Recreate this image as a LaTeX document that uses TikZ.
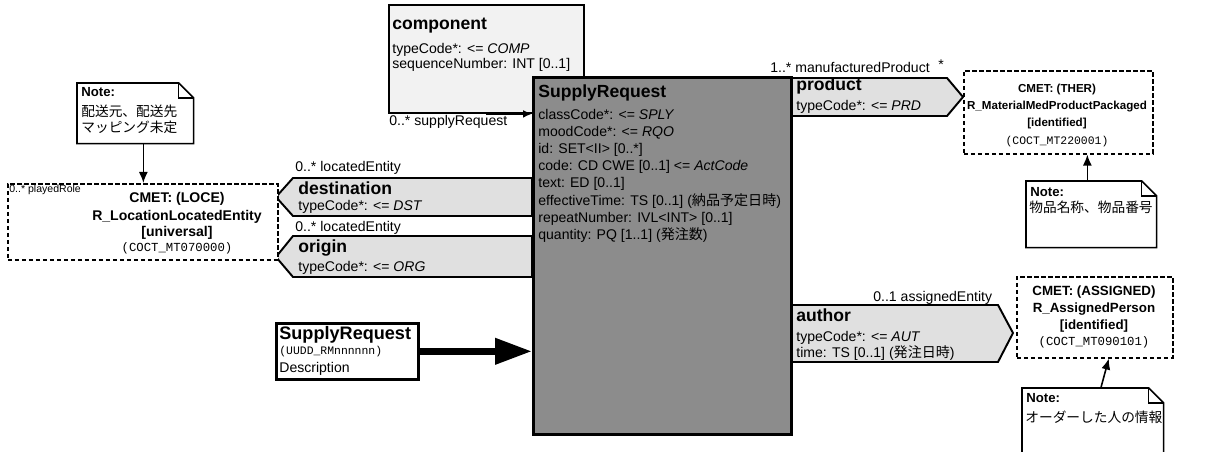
\documentclass[tikz,border=0pt]{standalone}
\usepackage{fontspec}
\setmainfont{Liberation Sans}
\setmonofont{Liberation Mono}
\newfontfamily\jpfont{Noto Sans CJK JP}
\usetikzlibrary{arrows.meta,calc}
\definecolor{actfill}{gray}{0.55}
\definecolor{ptcpfill}{gray}{0.88}
\definecolor{relfill}{gray}{0.95}

\tikzset{
  clsname/.style={font=\fontsize{10}{12}\selectfont\bfseries, anchor=base west, inner sep=0pt},
  attr/.style={font=\fontsize{8}{10}\selectfont, anchor=base west, inner sep=0pt},
  cmetline/.style={font=\fontsize{8}{10}\selectfont\bfseries, anchor=base, inner sep=0pt},
  cmetid/.style={font=\fontsize{7}{9}\selectfont\ttfamily, anchor=base, inner sep=0pt},
  notetext/.style={font=\fontsize{7.8}{9}\selectfont\jpfont, anchor=base west, inner sep=0pt},
  clsbox/.style={draw, line width=1.1pt, anchor=north west, inner sep=0pt},
  cmetbox/.style={draw, line width=0.9pt, dash pattern=on 0.09cm off 0.05cm, fill=white, anchor=north west, inner sep=0pt},
  ptcp/.style={draw, line width=1.1pt, fill=ptcpfill, line join=miter},
  notebox/.style={draw, line width=0.9pt},
  notearrow/.style={-{Latex[length=0.22cm,width=0.18cm]}, line width=0.9pt},
}

\newcommand{\foldnote}[1]{%
  \draw[notebox, fill=white] (#1.south west) -- (#1.north west) -- ([xshift=-0.3cm]#1.north east)
    -- ([yshift=-0.3cm]#1.north east) -- (#1.south east) -- cycle;
  \draw[notebox] ([xshift=-0.3cm]#1.north east) |- ([yshift=-0.3cm]#1.north east);
}

\begin{document}
\begin{tikzpicture}[x=0.02cm, y=-0.02cm]
\useasboundingbox (0,0) rectangle (1207,452);
\clip (0,0) rectangle (1207,452);

% component (act relationship back to itself)
\node[clsbox, fill=relfill, minimum width=3.9cm, minimum height=2.16cm] (comp) at (388,4) {};
\node[clsname] (compname) at (392,30) {component};
\node[attr] (comptc) at (392,54) {typeCode*: <= \textit{COMP}};
\node[attr] (compsn) at (392,69) {sequenceNumber: INT [0..1]};
\node[attr] (comprole) at (389,126) {0..* supplyRequest};

% participations on the left
\draw[ptcp] (276,197) -- (293,178) -- (532,178) -- (532,216) -- (293,216) -- cycle;
\node[attr] (destrole) at (295,172) {0..* locatedEntity};
\node[clsname] (destname) at (298,195) {destination};
\node[attr] (desttc) at (298,211) {typeCode*: <= \textit{DST}};

\draw[ptcp] (276,257) -- (293,236) -- (532,236) -- (532,277) -- (293,277) -- cycle;
\node[attr] (origrole) at (295,232) {0..* locatedEntity};
\node[clsname] (origname) at (298,253) {origin};
\node[attr] (origtc) at (298,272) {typeCode*: <= \textit{ORG}};

% main act
\node[clsbox, fill=actfill, line width=1.6pt, minimum width=5.16cm, minimum height=7.14cm] (main) at (532,76) {};
\node[clsname] (srname) at (538,98) {SupplyRequest};
\foreach \attrtext [count=\i] in {
    {classCode*: <= \textit{SPLY}},
    {moodCode*: <= \textit{RQO}},
    {id: SET<II> [0..*]},
    {code: CD CWE [0..1] <= \textit{ActCode}},
    {text: ED [0..1]},
    {effectiveTime: TS [0..1] ({\jpfont 納品予定日時})},
    {repeatNumber: IVL<INT> [0..1]},
    {quantity: PQ [1..1] ({\jpfont 発注数})}}
  \node[attr] (sr\i) at (538,{102+17.2*\i}) {\attrtext};

\draw[line width=1.1pt, -{Latex[length=0.18cm,width=0.16cm]}] (comp.south) -- (comp.south -| main.west);

% product
\draw[ptcp] (792,78) -- (947,78) -- (963,97) -- (947,116) -- (792,116) -- cycle;
\node[attr] (prodrole) at (770,73) {1..* manufacturedProduct};
\node[attr] (prodstar) at (938,70) {*};
\node[clsname] (prodname) at (796,91) {product};
\node[attr] (prodtc) at (796,111) {typeCode*: <= \textit{PRD}};

% author
\draw[ptcp] (792,305) -- (998,305) -- (1013,333) -- (998,362) -- (792,362) -- cycle;
\node[attr] (authrole) at (873,302) {0..1 assignedEntity};
\node[clsname] (authname) at (796,322) {author};
\node[attr] (authtc) at (796,342) {typeCode*: <= \textit{AUT}};
\node[attr] (authtime) at (796,358) {time: TS [0..1] ({\jpfont 発注日時})};

% CMETs
\node[cmetbox, minimum width=5.4cm, minimum height=1.52cm] (loce) at (7,183) {};
\node[attr, font=\fontsize{6}{7}\selectfont] (locerole) at (9,193) {0..* playedRole};
\node[cmetline] (loce1) at (177,203) {CMET: (LOCE)};
\node[cmetline] (loce2) at (177,221) {R\_LocationLocatedEntity};
\node[cmetline] (loce3) at (177,237) {[universal]};
\node[cmetid] (loce4) at (177,252) {(COCT\_MT070000)};

\node[cmetbox, minimum width=3.78cm, minimum height=1.66cm] (ther) at (963,70) {};
\node[cmetline, font=\fontsize{6.6}{8}\selectfont\bfseries] (ther1) at (1057,93) {CMET: (THER)};
\node[cmetline, font=\fontsize{6.6}{8}\selectfont\bfseries] (ther2) at (1057,110) {R\_MaterialMedProductPackaged};
\node[cmetline, font=\fontsize{6.6}{8}\selectfont\bfseries] (ther3) at (1057,127) {[identified]};
\node[cmetid, font=\fontsize{6.5}{8}\selectfont\ttfamily] (ther4) at (1057,145) {(COCT\_MT220001)};

\node[cmetbox, minimum width=3.12cm, minimum height=1.62cm] (assigned) at (1016,276) {};
\node[cmetline, font=\fontsize{7.6}{9}\selectfont\bfseries] (asg1) at (1094,296) {CMET: (ASSIGNED)};
\node[cmetline, font=\fontsize{7.6}{9}\selectfont\bfseries] (asg2) at (1094,313) {R\_AssignedPerson};
\node[cmetline, font=\fontsize{7.6}{9}\selectfont\bfseries] (asg3) at (1094,330) {[identified]};
\node[cmetid] (asg4) at (1094,346) {(COCT\_MT090101)};

% entry point
\node[clsbox, fill=white, line width=1.5pt, minimum width=2.84cm, minimum height=1.12cm] (entry) at (275,322) {};
\node[clsname, font=\fontsize{10.3}{12}\selectfont\bfseries] (entryname) at (279,340) {SupplyRequest};
\node[attr, font=\fontsize{6.5}{8}\selectfont\ttfamily] (entryid) at (279,355) {(UUDD\_RMnnnnnn)};
\node[attr] (entrydesc) at (279,373) {Description};
\draw[line width=4pt, -{Triangle[length=0.74cm,width=0.5cm]}] (entry.east) -- (entry.east -| main.west);

% notes
\node[anchor=north west, minimum width=2.32cm, minimum height=1.2cm, inner sep=0pt] (locnote) at (77,83) {};
\foldnote{locnote}
\node[attr, font=\fontsize{7.5}{9}\selectfont\bfseries] (locnote1) at (81,97) {Note:};
\node[notetext] (locnote2) at (81,117) {配送元、配送先};
\node[notetext] (locnote3) at (81,133) {マッピング未定};
\coordinate (locarr) at ($(locnote.south)+(8,0)$);
\draw[notearrow] (locarr) -- (locarr |- loce.north);

\node[anchor=north west, minimum width=2.6cm, minimum height=1.32cm, inner sep=0pt] (thernote) at (1026,181) {};
\foldnote{thernote}
\node[attr, font=\fontsize{7.5}{9}\selectfont\bfseries] (thernote1) at (1030,197) {Note:};
\node[notetext] (thernote2) at (1029,213) {物品名称、物品番号};
\coordinate (therarr) at ($(thernote.north)+(-4,0)$);
\draw[notearrow] (therarr) -- (therarr |- ther.south);

\node[anchor=north west, minimum width=2.82cm, minimum height=1.64cm, inner sep=0pt] (asgnote) at (1022,388) {};
\foldnote{asgnote}
\node[attr, font=\fontsize{7.5}{9}\selectfont\bfseries] (asgnote1) at (1026,402) {Note:};
\node[notetext] (asgnote2) at (1025,422) {オーダーした人の情報};
\draw[notearrow] ($(asgnote.north)+(8,0)$) -- ($(assigned.south)+(14,0)$);

\end{tikzpicture}
\end{document}
